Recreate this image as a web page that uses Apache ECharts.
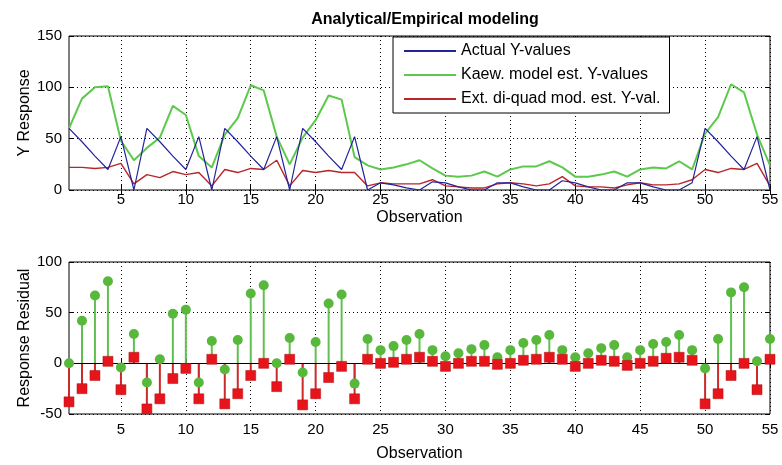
<!DOCTYPE html>
<html>
<head>
<meta charset="utf-8">
<script src="https://cdn.jsdelivr.net/npm/echarts@6/dist/echarts.min.js"></script>
<style>html,body{margin:0;padding:0;background:#fff}#c{width:782px;height:465px}</style>
</head>
<body>
<div id="c"></div>
<script>
const observations = [1,2,3,4,5,6,7,8,9,10,11,12,13,14,15,16,17,18,19,20,21,22,23,24,25,26,27,28,29,30,31,32,33,34,35,36,37,38,39,40,41,42,43,44,45,46,47,48,49,50,51,52,53,54,55];
const actualY = [60,47,33,20,52,0, 60,47,33,20,52,0, 60,47,33,20,52,0, 60,47,33,20,52,0, 7,5,2,0, 8,7,3,0,0, 7,7,3,0,0, 9,7,3,0,0, 7,7,3,0,0, 7, 60,47,33,20,52,0];
const kaewY = [60,89,100,101,48,29, 41,51,82,73,33,22, 54,70,102,97,52,25, 51,68,92,88,32,24, 20,22,25,29, 21,14,13,14,18, 13,20,23,23,28, 22,13,13,15,18, 13,20,22,21,28, 20, 55,71,103,95,54,24];
const extY = [22,22,21,22,26,6, 15,12,18,15,17,4, 20,17,21,20,29,4, 19,17,19,17,17,4, 7,6,6,6, 10,4,3,2,2, 6,7,6,4,6, 13,4,3,3,2, 5,7,5,5,6, 10, 20,17,21,20,26,4];
const kaewResid = [0,42,67,81,-4,29, -19,4,49,53,-19,22, -6,23,69,77,0,25, -9,21,59,68,-20,24, 13,17,23,29, 13,7,10,14,18, 6,13,20,23,28, 13,6,10,15,18, 6,13,19,21,28, 13, -5,24,70,75,2,24];
const extResid = [-38,-25,-12,2,-26,6, -45,-35,-15,-5,-35,4, -40,-30,-12,0,-23,4, -41,-30,-14,-3,-35,4, 0,1,4,6, 2,-3,0,2,2, -1,0,3,4,6, 4,-3,0,3,2, -2,0,2,5,6, 3, -40,-30,-12,0,-26,4];
const xTicks = [5,10,15,20,25,30,35,40,45,50,55];
const seriesNames = ['Actual Y-values','Kaew. model est. Y-values','Ext. di-quad mod. est. Y-val.'];

const pairs = arr => observations.map((o,i)=>[o,arr[i]]);
const FONT = 'Liberation Sans, Arial, sans-serif';
const lbl = {color:'#000', fontSize:15, fontFamily:FONT};

function xAx(grid, main, margin, nameGap){
  return {
    type:'value', gridIndex:grid, min:1, max:55, position: main?'bottom':'top',
    name: main?'Observation':'', nameLocation:'middle', nameGap:nameGap, nameMoveOverlap:false,
    nameTextStyle:{color:'#000', fontSize:16, fontFamily:FONT},
    axisLine:{show:false},
    axisTick:{show:true, inside:true, length:5, customValues:xTicks, lineStyle:{color:'#000'}},
    axisLabel: main?Object.assign({show:true, margin:margin, customValues:xTicks}, lbl):{show:false},
    splitLine:{show:main, lineStyle:{color:'#000', type:[1,3], width:1}}
  };
}
function yAx(grid, main, min, max, name){
  return {
    type:'value', gridIndex:grid, min:min, max:max, interval:50, position: main?'left':'right',
    name: main?name:'', nameLocation:'middle', nameGap:36, nameRotate:90, nameMoveOverlap:false,
    nameTextStyle:{color:'#000', fontSize:16, fontFamily:FONT},
    axisLine:{show:false},
    axisTick:{show:true, inside:true, length:5, lineStyle:{color:'#000'}},
    axisLabel: main?Object.assign({show:true, margin:7}, lbl):{show:false},
    splitLine:{show:main, lineStyle:{color:'#000', type:[1,3], width:1}}
  };
}

const chart = echarts.init(document.getElementById('c'), null, {renderer:'canvas'});
chart.setOption({
  backgroundColor:'#fff',
  animation:false,
  title:{text:'Analytical/Empirical modeling', left:420, top:7, textAlign:'center',
    textStyle:{fontSize:16, fontWeight:'bold', color:'#000', fontFamily:FONT}},
  grid:[
    {left:69, right:12, top:36, height:154, show:true, borderColor:'#000', borderWidth:1, backgroundColor:'transparent'},
    {left:69, right:12, top:262, height:152, show:true, borderColor:'#000', borderWidth:1, backgroundColor:'transparent'}
  ],
  xAxis:[xAx(0,true,2,20), xAx(0,false,0,0), xAx(1,true,8,32), xAx(1,false,0,0)],
  yAxis:[yAx(0,true,0,150,'Y Response'), yAx(0,false,0,150,''), yAx(1,true,-50,100,'Response Residual'), yAx(1,false,-50,100,'')],
  legend:{
    left:393, top:37, orient:'vertical', selectedMode:false,
    backgroundColor:'#fff', borderColor:'#000', borderWidth:1, borderRadius:0,
    padding:[6,9,6,10], itemGap:8, itemWidth:52, itemHeight:14,
    itemStyle:{opacity:0},
    textStyle:{color:'#000', fontSize:16, fontFamily:FONT, lineHeight:16},
    data:seriesNames
  },
  series:[
    {name:seriesNames[0], type:'line', xAxisIndex:0, yAxisIndex:0, data:pairs(actualY), symbol:'none',
      lineStyle:{color:'#23239a', width:1.2}, itemStyle:{color:'#23239a'}, z:4},
    {name:seriesNames[1], type:'line', xAxisIndex:0, yAxisIndex:0, data:pairs(kaewY), symbol:'none',
      lineStyle:{color:'#5cc84c', width:2}, itemStyle:{color:'#5cc84c'}, z:3},
    {name:seriesNames[2], type:'line', xAxisIndex:0, yAxisIndex:0, data:pairs(extY), symbol:'none',
      lineStyle:{color:'#b8262a', width:1.4}, itemStyle:{color:'#b8262a'}, z:3},
    {name:'kaewStem', type:'bar', xAxisIndex:2, yAxisIndex:2, data:pairs(kaewResid), barWidth:2, barGap:'-100%',
      itemStyle:{color:'#62c052'}, z:2,
      markLine:{silent:true, symbol:'none', label:{show:false}, lineStyle:{color:'#000', type:'solid', width:1.2},
        data:[{yAxis:0}]}},
    {name:'extStem', type:'bar', xAxisIndex:2, yAxisIndex:2, data:pairs(extResid), barWidth:2, barGap:'-100%',
      itemStyle:{color:'#cc2a2a'}, z:2},
    {name:'kaewMark', type:'scatter', xAxisIndex:2, yAxisIndex:2, data:pairs(kaewResid), symbol:'circle', symbolSize:10,
      itemStyle:{color:'#58b83c', opacity:1}, z:5},
    {name:'extMark', type:'scatter', xAxisIndex:2, yAxisIndex:2, data:pairs(extResid), symbol:'rect', symbolSize:10,
      itemStyle:{color:'#e8141c', borderColor:'#b01010', borderWidth:0.5, opacity:1}, z:6}
  ]
});
</script>
</body>
</html>
